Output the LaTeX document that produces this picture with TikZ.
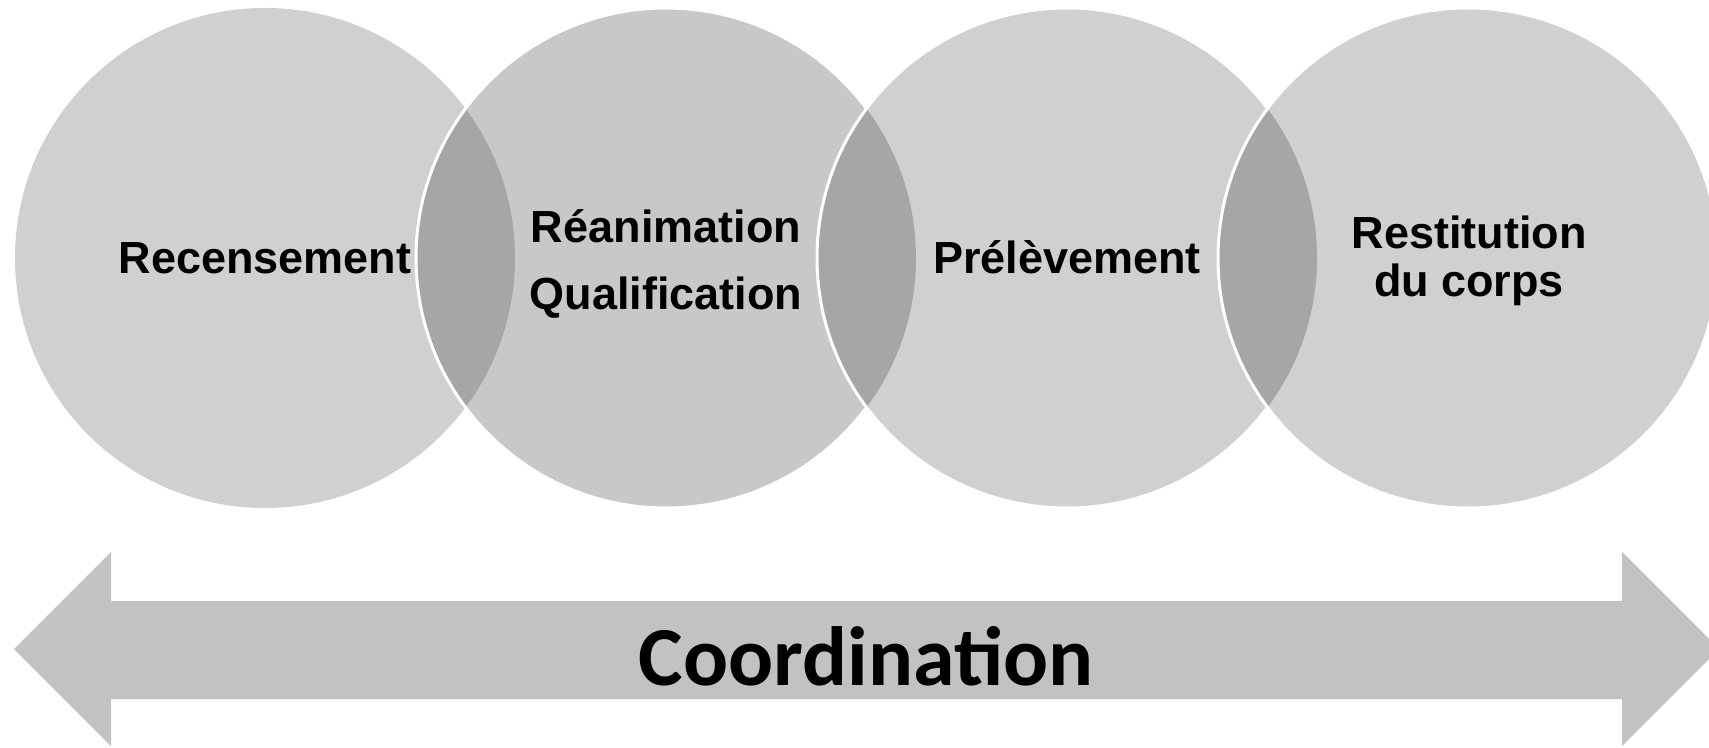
\documentclass[tikz,border=0pt]{standalone}
\usepackage{fontspec}
\newfontfamily\arialfont{Liberation Sans}
\newfontfamily\calibrifont{Carlito}

\tikzset{every picture/.style={line width=0.75pt}}

\begin{document}
\begin{tikzpicture}[x=0.5pt,y=0.5pt,yscale=-1,xscale=1,
  stagetext/.style={inner sep=0pt, align=center, text=black, font=\arialfont\bfseries\fontsize{22.5}{28.5}\selectfont},
  lens/.style={fill={rgb, 255:red, 166; green, 166; blue, 166 }},
  rim/.style={draw=white, line width=1.5pt}]
\useasboundingbox (0,0) rectangle (1709,748);
\clip (0,0) rectangle (1709,748);

%Shape: Circle [id:recensement]
\fill [fill={rgb, 255:red, 208; green, 208; blue, 208 }] (265,258) circle [radius=250];
%Shape: Circle [id:reanimation]
\fill [fill={rgb, 255:red, 200; green, 200; blue, 200 }] (666,258) circle [radius=250];
\begin{scope}
\clip (265,258) circle [radius=250];
\fill [lens] (666,258) circle [radius=250];
\end{scope}
\draw [rim] (666,258) circle [radius=250];
%Shape: Circle [id:prelevement]
\fill [fill={rgb, 255:red, 208; green, 208; blue, 208 }] (1067,258) circle [radius=250];
\begin{scope}
\clip (666,258) circle [radius=250];
\fill [lens] (1067,258) circle [radius=250];
\end{scope}
\draw [rim] (1067,258) circle [radius=250];
%Shape: Circle [id:restitution]
\fill [fill={rgb, 255:red, 208; green, 208; blue, 208 }] (1468,258) circle [radius=250];
\begin{scope}
\clip (1067,258) circle [radius=250];
\fill [lens] (1468,258) circle [radius=250];
\end{scope}
\draw [rim] (1468,258) circle [radius=250];

%Shape: Double Arrow [id:coordination]
\fill [fill={rgb, 255:red, 194; green, 194; blue, 194 }] (14,649) -- (111,552) -- (111,601) -- (1622,601) -- (1622,552) -- (1719,649) -- (1622,746) -- (1622,699) -- (111,699) -- (111,746) -- cycle ;

% Text Node
\node [stagetext, anchor=base] (recens) at (265,274) {Recensement};
% Text Node
\node [stagetext, font=\arialfont\bfseries\fontsize{22.5}{33.5}\selectfont] (reanim) at (666,263.5) {Réanimation\\Qualification};
% Text Node
\node [stagetext, anchor=base] (prelev) at (1067,274) {Prélèvement};
% Text Node
\node [stagetext, font=\arialfont\bfseries\fontsize{22.5}{24}\selectfont] (restit) at (1469,261) {Restitution\\du corps};
% Text Node
\node [inner sep=0pt, anchor=base, font=\calibrifont\bfseries\fontsize{42}{50}\selectfont] (coord) at (866,685) {Coordination};

\end{tikzpicture}
\end{document}
